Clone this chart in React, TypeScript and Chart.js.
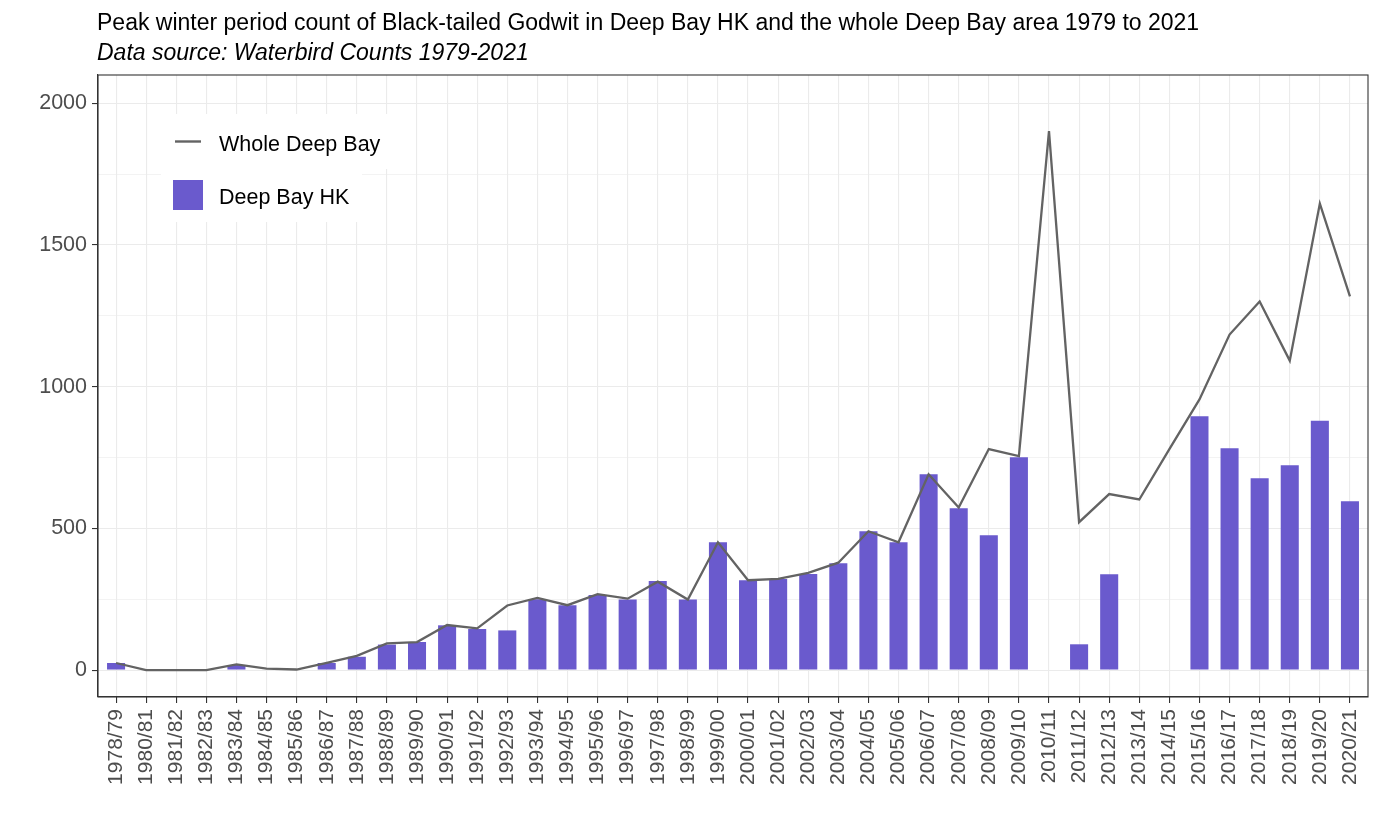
import React, { useEffect, useRef } from "react";
import { Chart, registerables } from "chart.js";

Chart.register(...registerables);

// ---------- data ----------
const seasons = [
  "1978/79", "1980/81", "1981/82", "1982/83", "1983/84", "1984/85", "1985/86",
  "1986/87", "1987/88", "1988/89", "1989/90", "1990/91", "1991/92", "1992/93",
  "1993/94", "1994/95", "1995/96", "1996/97", "1997/98", "1998/99", "1999/00",
  "2000/01", "2001/02", "2002/03", "2003/04", "2004/05", "2005/06", "2006/07",
  "2007/08", "2008/09", "2009/10", "2010/11", "2011/12", "2012/13", "2013/14",
  "2014/15", "2015/16", "2016/17", "2017/18", "2018/19", "2019/20", "2020/21",
];

const deepBayHK: (number | null)[] = [
  25, 0, 0, 0, 18, 0, 0,
  25, 47, 90, 99, 158, 145, 140,
  250, 229, 265, 249, 314, 249, 451,
  317, 321, 339, 377, 490, 451, 691,
  571, 476, 751, null, 91, 338, null,
  0, 896, 783, 677, 723, 880, 596,
];

const wholeDeepBay: number[] = [
  25, 0, 0, 0, 20, 5, 2,
  25, 50, 94, 99, 159, 147, 228,
  255, 229, 268, 252, 312, 249, 451,
  317, 322, 343, 379, 490, 451, 691,
  574, 780, 755, 1902, 522, 621, 602,
  780, 955, 1184, 1301, 1092, 1646, 1319,
];

const yMajorTicks = [0, 500, 1000, 1500, 2000];
const yMinorTicks = [250, 750, 1250, 1750];

const TITLE = "Peak winter period count of Black-tailed Godwit in Deep Bay HK and the whole Deep Bay area 1979 to 2021";
const SUBTITLE = "Data source: Waterbird Counts 1979-2021";

// ---------- style ----------
const FONT = '"Liberation Sans", Arial, Helvetica, sans-serif';
const BAR_COLOR = "#6A5ACD";
const LINE_COLOR = "#636363";
const GRID = "#EBEBEB";
const AXIS = "#333333";
const TICK_TEXT = "#4D4D4D";

const insideLegend = {
  id: "insideLegend",
  afterDatasetsDraw(chart: any) {
    const { ctx, chartArea: a } = chart;
    const lineDs = chart.data.datasets[0];
    const barDs = chart.data.datasets[1];
    const x0 = a.left + 63;
    ctx.save();
    ctx.fillStyle = "#FFFFFF";
    ctx.fillRect(x0, a.top + 39, 231, 55);
    ctx.fillRect(x0, a.top + 94, 201, 53);
    // line key
    ctx.strokeStyle = lineDs.borderColor;
    ctx.lineWidth = 2.4;
    ctx.beginPath();
    ctx.moveTo(x0 + 14, a.top + 66.5);
    ctx.lineTo(x0 + 40, a.top + 66.5);
    ctx.stroke();
    // bar key
    ctx.fillStyle = barDs.backgroundColor;
    ctx.fillRect(x0 + 12, a.top + 105, 30, 30);
    // labels
    ctx.fillStyle = "#000000";
    ctx.font = `21.5px ${FONT}`;
    ctx.textAlign = "left";
    ctx.textBaseline = "alphabetic";
    ctx.fillText(lineDs.label, x0 + 58, a.top + 75.5);
    ctx.fillText(barDs.label, x0 + 58, a.top + 128.5);
    ctx.restore();
  },
};

const panelBorder = {
  id: "panelBorder",
  afterDatasetsDraw(chart: any) {
    const { ctx, chartArea: a } = chart;
    ctx.save();
    ctx.strokeStyle = AXIS;
    ctx.lineWidth = 1.1;
    ctx.strokeRect(a.left, a.top, a.right - a.left, a.bottom - a.top);
    ctx.restore();
  },
};

export default function App() {
  const canvasRef = useRef<HTMLCanvasElement | null>(null);

  useEffect(() => {
    if (!canvasRef.current) return;
    const chart = new Chart(canvasRef.current, {
      type: "bar",
      data: {
        datasets: [
          {
            type: "line",
            label: "Whole Deep Bay",
            data: seasons.map((_, i) => ({ x: i, y: wholeDeepBay[i] })),
            borderColor: LINE_COLOR,
            backgroundColor: LINE_COLOR,
            borderWidth: 2.3,
            pointRadius: 0,
            tension: 0,
            order: 0,
          },
          {
            type: "bar",
            label: "Deep Bay HK",
            data: seasons.map((_, i) => ({ x: i, y: deepBayHK[i] })),
            backgroundColor: BAR_COLOR,
            borderWidth: 0,
            barPercentage: 0.6,
            categoryPercentage: 1,
            order: 1,
          },
        ],
      } as any,
      options: {
        animation: false,
        responsive: false,
        devicePixelRatio: 1,
        layout: { padding: { top: 75, right: 11, bottom: 0, left: 0 } },
        plugins: {
          legend: { display: false },
          tooltip: { enabled: false },
          title: { display: false },
        },
        scales: {
          x: {
            type: "linear",
            min: -0.6,
            max: 41.6,
            offset: false,
            afterBuildTicks: (axis: any) => {
              axis.ticks = seasons.map((_, i) => ({ value: i }));
            },
            afterFit: (s: any) => {
              s.height = 130;
              s.paddingLeft = 0;
              s.paddingRight = 0;
            },
            ticks: {
              callback: (v: any) => seasons[Math.round(Number(v))] ?? "",
              autoSkip: false,
              maxRotation: 90,
              minRotation: 90,
              padding: 6,
              color: TICK_TEXT,
              font: { size: 21, family: FONT },
            },
            grid: {
              offset: false,
              color: GRID,
              lineWidth: 1.1,
              tickColor: AXIS,
              tickLength: 6,
              tickWidth: 1.1,
            },
            border: { display: true, color: AXIS, width: 1.1 },
          },
          y: {
            type: "linear",
            min: -95,
            max: 2100,
            afterBuildTicks: (axis: any) => {
              axis.ticks = [...yMajorTicks, ...yMinorTicks]
                .sort((a, b) => a - b)
                .map((v) => ({ value: v }));
            },
            afterFit: (s: any) => {
              s.width = 98;
            },
            ticks: {
              callback: (v: any) => (yMajorTicks.includes(Number(v)) ? String(v) : ""),
              padding: 5,
              color: TICK_TEXT,
              font: { size: 21.5, family: FONT },
            },
            grid: {
              color: GRID,
              lineWidth: (c: any) => (yMajorTicks.includes(c.tick?.value) ? 1.1 : 0.6),
              tickColor: (c: any) => (yMajorTicks.includes(c.tick?.value) ? AXIS : "rgba(0,0,0,0)"),
              tickLength: 6,
              tickWidth: 1.1,
            },
            border: { display: true, color: AXIS, width: 1.1 },
          },
        },
      } as any,
      plugins: [insideLegend, panelBorder],
    });
    return () => chart.destroy();
  }, []);

  return (
    <div
      style={{
        position: "fixed",
        left: 0,
        top: 0,
        width: 1379,
        height: 827,
        background: "#FFFFFF",
        overflow: "hidden",
      }}
    >
      <canvas
        ref={canvasRef}
        width={1379}
        height={827}
        style={{ position: "absolute", left: 0, top: 0, width: 1379, height: 827, display: "block" }}
      />
      <div
        style={{
          position: "absolute",
          left: 97,
          top: 8.5,
          fontFamily: FONT,
          fontSize: 23,
          lineHeight: "26px",
          color: "#000000",
          whiteSpace: "nowrap",
        }}
      >
        {TITLE}
      </div>
      <div
        style={{
          position: "absolute",
          left: 97,
          top: 39,
          fontFamily: FONT,
          fontSize: 23,
          fontStyle: "italic",
          lineHeight: "26px",
          color: "#000000",
          whiteSpace: "nowrap",
        }}
      >
        {SUBTITLE}
      </div>
    </div>
  );
}
